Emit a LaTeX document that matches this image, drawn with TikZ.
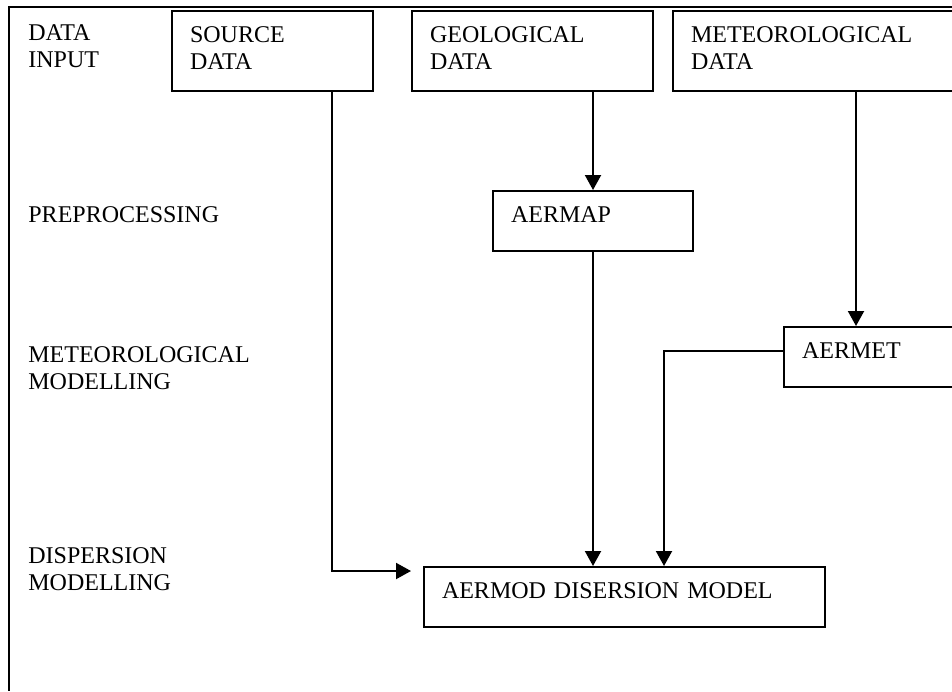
\documentclass[tikz,border=0pt]{standalone}
\usepackage{fontspec}
\setmainfont{Liberation Serif}
\usetikzlibrary{arrows.meta}

\begin{document}
\begin{tikzpicture}[x=0.5pt, y=-0.5pt, font=\fontsize{12}{13.8}\selectfont,
  box/.style = {draw, line width=1pt, anchor=north west, align=left, inner xsep=9pt, inner ysep=8pt, text height=7.5pt, text depth=6.5pt},
  tall/.style = {box, text depth=16.5pt},
  stage/.style = {anchor=base west, align=left, inner sep=0pt, text width=130pt},
  flow/.style = {-{Triangle[length=7.5pt, width=8pt]}, line width=1pt}]
\useasboundingbox (0,0) rectangle (952,691);

% table frame
\draw[line width=1pt] (952,7) -- (9,7) -- (9,691);

\node[stage] (7) at (28,40) {DATA\\INPUT};
\node[stage] (8) at (28,222) {PREPROCESSING};
\node[stage] (9) at (28,362) {METEOROLOGICAL\\MODELLING};
\node[stage] (10) at (28,563) {DISPERSION\\MODELLING};

\node[tall, text width=82.5pt] (1) at (171,10) {SOURCE\\DATA};
\node[tall, text width=102.5pt] (2) at (411,10) {GEOLOGICAL\\DATA};
\node[tall, text width=122pt] (3) at (672,10) {METEOROLOGICAL\\DATA};
\node[box, text width=82pt] (4) at (492,190) {AERMAP};
\node[box, text width=66.5pt] (5) at (783,326) {AERMET};
\node[box, text width=182.5pt] (6) at (423,566) {AERMOD DISERSION MODEL};

\draw[flow] ([xshift=29.75pt]1.south) |- ([xshift=-6pt, yshift=-2.5pt]6.north west);
\draw[flow] ([xshift=30.25pt]2.south) -- ([xshift=30.25pt]2.south |- 4.north);
\draw[flow] ([xshift=21.5pt]3.south) -- ([xshift=21.5pt]3.south |- 5.north);
\draw[flow] (4.south) -- (4.south |- 6.north);
\draw[flow] ([yshift=3pt]5.west) -| ([xshift=19.75pt]6.north);

\end{tikzpicture}
\end{document}
